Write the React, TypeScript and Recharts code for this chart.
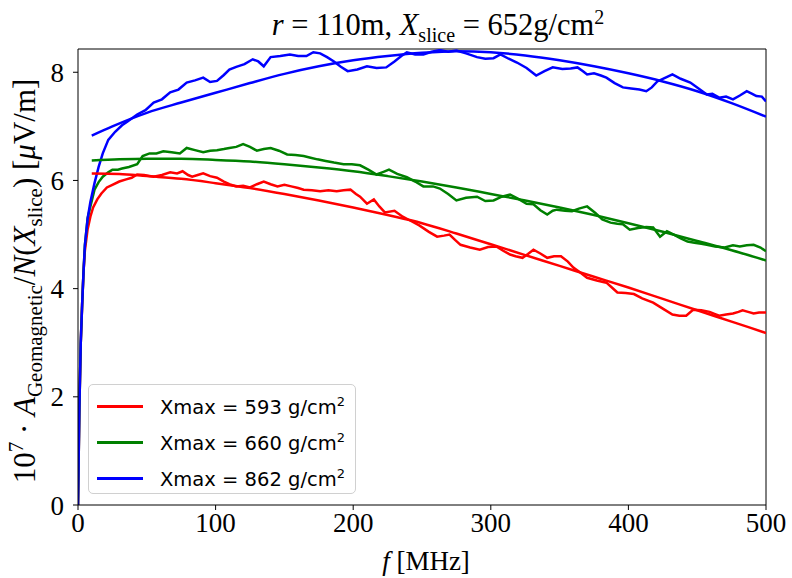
import { LineChart, Line, XAxis, YAxis, ReferenceLine } from 'recharts';

// f [MHz], amplitude — simulated (noisy) curves
const redSim: [number, number][] = [
  [0, 0], [1, 1.8], [2, 3.0], [3, 3.7], [4, 4.3], [5, 4.7], [7, 5.1], [9, 5.33], [11, 5.5], [14, 5.65],
  [17, 5.76], [21, 5.87], [25, 5.92], [30, 5.98], [35, 6.02], [39, 6.05], [43, 6.11], [48, 6.1], [55, 6.07],
  [61, 6.1], [67, 6.15], [72, 6.13], [76, 6.17], [80, 6.1], [83, 6.07], [87, 6.1], [91, 6.13], [96, 6.08],
  [101, 6.05], [106, 5.98], [110, 5.93], [115, 5.89], [120, 5.9], [125, 5.87], [130, 5.93], [135, 5.98],
  [140, 5.93], [145, 5.89], [150, 5.92], [155, 5.89], [160, 5.86], [164, 5.83], [170, 5.82], [176, 5.8],
  [182, 5.82], [188, 5.8], [193, 5.82], [198, 5.83], [202, 5.75], [205, 5.7], [210, 5.57], [215, 5.65],
  [219, 5.52], [223, 5.41], [230, 5.44], [236, 5.33], [242, 5.25], [248, 5.17], [255, 5.05], [261, 4.96],
  [266, 4.98], [270, 5.0], [274, 4.9], [278, 4.81], [285, 4.76], [292, 4.72], [298, 4.77], [304, 4.78],
  [309, 4.7], [314, 4.63], [318, 4.6], [323, 4.57], [327, 4.64], [331, 4.72], [336, 4.65], [341, 4.57],
  [346, 4.6], [351, 4.6], [356, 4.5], [360, 4.39], [365, 4.3], [370, 4.2], [377, 4.15], [384, 4.11],
  [388, 4.02], [392, 3.93], [398, 3.92], [404, 3.9], [410, 3.82], [418, 3.74], [425, 3.63], [432, 3.52],
  [437, 3.5], [442, 3.5], [447, 3.61], [453, 3.6], [459, 3.57], [463, 3.53], [466, 3.5], [471, 3.52],
  [476, 3.54], [480, 3.57], [483, 3.6], [487, 3.57], [491, 3.54], [495, 3.56], [500, 3.56],
];

const greenSim: [number, number][] = [
  [0, 0], [1, 1.8], [2, 3.0], [3, 3.7], [4, 4.3], [5, 4.8], [7, 5.3], [9, 5.52], [12, 5.83], [15, 5.97],
  [18, 6.07], [22, 6.15], [25, 6.2], [29, 6.2], [32, 6.22], [37, 6.25], [43, 6.3], [47, 6.45], [52, 6.5],
  [57, 6.5], [62, 6.54], [68, 6.52], [74, 6.5], [79, 6.6], [85, 6.56], [91, 6.52], [96, 6.55], [101, 6.56],
  [106, 6.58], [110, 6.6], [115, 6.62], [120, 6.67], [125, 6.62], [130, 6.55], [135, 6.58], [140, 6.6],
  [146, 6.55], [152, 6.48], [158, 6.47], [164, 6.45], [169, 6.42], [174, 6.39], [180, 6.36], [186, 6.33],
  [193, 6.3], [199, 6.3], [205, 6.28], [211, 6.2], [217, 6.11], [222, 6.16], [226, 6.2], [232, 6.12],
  [239, 6.06], [245, 5.98], [251, 5.89], [258, 5.89], [263, 5.85], [269, 5.75], [275, 5.63], [282, 5.68],
  [290, 5.7], [296, 5.62], [302, 5.63], [308, 5.7], [314, 5.74], [320, 5.66], [326, 5.57], [331, 5.56],
  [336, 5.45], [341, 5.37], [345, 5.44], [348, 5.46], [354, 5.44], [359, 5.43], [364, 5.48], [370, 5.52],
  [376, 5.4], [381, 5.28], [387, 5.22], [392, 5.2], [396, 5.19], [401, 5.09], [407, 5.12], [413, 5.14],
  [418, 5.13], [423, 4.96], [428, 5.06], [433, 5.0], [438, 4.93], [443, 4.87], [448, 4.85], [453, 4.83],
  [457, 4.81], [463, 4.78], [470, 4.76], [476, 4.8], [481, 4.78], [486, 4.8], [491, 4.81], [496, 4.76],
  [500, 4.69],
];

const blueSim: [number, number][] = [
  [0, 0], [1, 1.8], [2, 3.0], [3, 3.7], [4, 4.3], [5, 4.8], [7, 5.3], [9, 5.6], [12, 5.95], [15, 6.25],
  [18, 6.5], [22, 6.75], [27, 6.9], [32, 7.02], [36, 7.09], [43, 7.22], [49, 7.3], [55, 7.44], [61, 7.5],
  [67, 7.63], [73, 7.68], [79, 7.81], [85, 7.85], [91, 7.9], [96, 7.82], [101, 7.84], [106, 7.95],
  [110, 8.05], [115, 8.1], [121, 8.15], [127, 8.24], [131, 8.2], [135, 8.11], [140, 8.28], [147, 8.3],
  [154, 8.33], [160, 8.3], [166, 8.3], [171, 8.37], [176, 8.35], [181, 8.28], [186, 8.2], [191, 8.1],
  [196, 8.02], [203, 8.05], [210, 8.11], [217, 8.08], [224, 8.09], [230, 8.2], [235, 8.3], [239, 8.37],
  [245, 8.33], [251, 8.33], [257, 8.38], [263, 8.41], [269, 8.38], [275, 8.4], [282, 8.35], [290, 8.28],
  [296, 8.25], [302, 8.26], [307, 8.33], [313, 8.25], [319, 8.18], [326, 8.08], [333, 7.94], [339, 8.02],
  [345, 8.09], [352, 8.06], [358, 8.07], [363, 8.09], [367, 8.02], [370, 7.96], [375, 7.98], [380, 7.94],
  [384, 7.9], [390, 7.8], [396, 7.72], [402, 7.7], [408, 7.68], [413, 7.65], [417, 7.72], [421, 7.83],
  [427, 7.9], [432, 7.96], [438, 7.88], [445, 7.81], [451, 7.7], [457, 7.59], [461, 7.6], [466, 7.53],
  [471, 7.55], [476, 7.5], [481, 7.57], [486, 7.65], [490, 7.6], [493, 7.56], [497, 7.55], [500, 7.46],
];

// fitted curves
const redFit: [number, number][] = [
  [10, 6.13], [30, 6.12], [50, 6.08], [75, 6.03], [100, 5.95], [125, 5.86], [150, 5.75], [175, 5.63],
  [200, 5.5], [225, 5.36], [250, 5.21], [275, 5.02], [300, 4.82], [325, 4.62], [350, 4.42], [375, 4.22],
  [400, 4.02], [425, 3.81], [450, 3.6], [475, 3.39], [500, 3.18],
];
const greenFit: [number, number][] = [
  [10, 6.37], [30, 6.39], [50, 6.4], [75, 6.4], [100, 6.38], [125, 6.35], [150, 6.3], [175, 6.24],
  [200, 6.17], [225, 6.08], [250, 5.98], [275, 5.87], [300, 5.75], [325, 5.63], [350, 5.5], [375, 5.36],
  [400, 5.21], [425, 5.05], [450, 4.88], [475, 4.71], [500, 4.52],
];
const blueFit: [number, number][] = [
  [10, 6.83], [25, 7.0], [50, 7.25], [75, 7.44], [100, 7.62], [125, 7.8], [150, 7.97], [175, 8.11],
  [200, 8.22], [225, 8.3], [250, 8.36], [275, 8.39], [300, 8.37], [325, 8.31], [350, 8.22], [375, 8.11],
  [400, 7.98], [425, 7.83], [450, 7.65], [475, 7.43], [500, 7.18],
];

const xTicks = [0, 100, 200, 300, 400, 500];
const yTicks = [0, 2, 4, 6, 8];
const legendLabels = ['593', '660', '862'];
const colors = ['#ff0000', '#008000', '#0000ff'];
const Y_MAX = 8.43;

const toRows = (pts: [number, number][]) => pts.map(([f, v]) => ({ f, v }));

const serif = '"Liberation Serif", "DejaVu Serif", serif';
const tickStyle = { fill: '#000', fontSize: 27, fontFamily: serif };

export default function App() {
  const sims = [redSim, greenSim, blueSim];
  const fits = [redFit, greenFit, blueFit];

  return (
    <div style={{ position: 'absolute', left: 0, top: 0, width: 792, height: 578, background: '#fff' }}>
      <LineChart width={792} height={578} margin={{ top: 49, right: 26, bottom: 43, left: 38 }}>
        <XAxis
          dataKey="f"
          type="number"
          domain={[0, 500]}
          ticks={xTicks}
          height={30}
          stroke="#000"
          tickSize={5}
          tickMargin={3}
          tick={tickStyle}
          allowDataOverflow
        />
        <YAxis
          type="number"
          domain={[0, Y_MAX]}
          ticks={yTicks}
          width={40}
          stroke="#000"
          tickSize={5}
          tickMargin={9}
          tick={tickStyle}
          allowDataOverflow
        />
        {/* frame: top and right spines */}
        <ReferenceLine y={Y_MAX} stroke="#000" strokeWidth={1} ifOverflow="extendDomain" />
        <ReferenceLine x={500} stroke="#000" strokeWidth={1} ifOverflow="extendDomain" />
        {sims.map((s, i) => (
          <Line
            key={'sim' + i}
            data={toRows(s)}
            dataKey="v"
            type="linear"
            stroke={colors[i]}
            strokeWidth={2.5}
            dot={false}
            isAnimationActive={false}
          />
        ))}
        {fits.map((s, i) => (
          <Line
            key={'fit' + i}
            data={toRows(s)}
            dataKey="v"
            type="monotone"
            stroke={colors[i]}
            strokeWidth={2.5}
            dot={false}
            isAnimationActive={false}
          />
        ))}
      </LineChart>

      {/* title */}
      <div
        style={{
          position: 'absolute', left: 438, top: 6, transform: 'translateX(-50%)', whiteSpace: 'nowrap',
          fontFamily: serif, fontSize: 30.5, color: '#000',
        }}
      >
        <i>r</i> = 110m, <i>X</i><sub style={{ fontSize: 20 }}>slice</sub> = 652g/cm<sup style={{ fontSize: 20 }}>2</sup>
      </div>

      {/* x label */}
      <div
        style={{
          position: 'absolute', left: 426, top: 546, transform: 'translateX(-50%)', whiteSpace: 'nowrap',
          fontFamily: serif, fontSize: 27, color: '#000',
        }}
      >
        <i>f</i> [MHz]
      </div>

      {/* y label */}
      <div
        style={{
          position: 'absolute', left: 26, top: 281, transform: 'translate(-50%, -50%) rotate(-90deg)',
          whiteSpace: 'nowrap', fontFamily: serif, fontSize: 31, color: '#000', lineHeight: 1,
        }}
      >
        10<sup style={{ fontSize: 21 }}>7</sup> · <i>A</i><sub style={{ fontSize: 21 }}>Geomagnetic</sub>/<i>N</i>(<i>X</i>
        <sub style={{ fontSize: 21 }}>slice</sub>) [<i>μ</i>V/m]
      </div>

      {/* legend */}
      <div
        style={{
          position: 'absolute', left: 88, top: 384, width: 266, height: 108, border: '1px solid #d0d0d0',
          borderRadius: 5, background: 'rgba(255,255,255,0.85)', fontFamily: '"DejaVu Sans", sans-serif',
          fontSize: 19.5, color: '#000',
        }}
      >
        {legendLabels.map((l, i) => (
          <div key={l} style={{ position: 'absolute', left: 8, top: 8 + i * 36, height: 26, display: 'flex', alignItems: 'center' }}>
            <div style={{ width: 46, height: 3, background: colors[i] }} />
            <span style={{ marginLeft: 17, whiteSpace: 'nowrap' }}>
              Xmax = {l} g/cm<sup style={{ fontSize: 13 }}>2</sup>
            </span>
          </div>
        ))}
      </div>
    </div>
  );
}
